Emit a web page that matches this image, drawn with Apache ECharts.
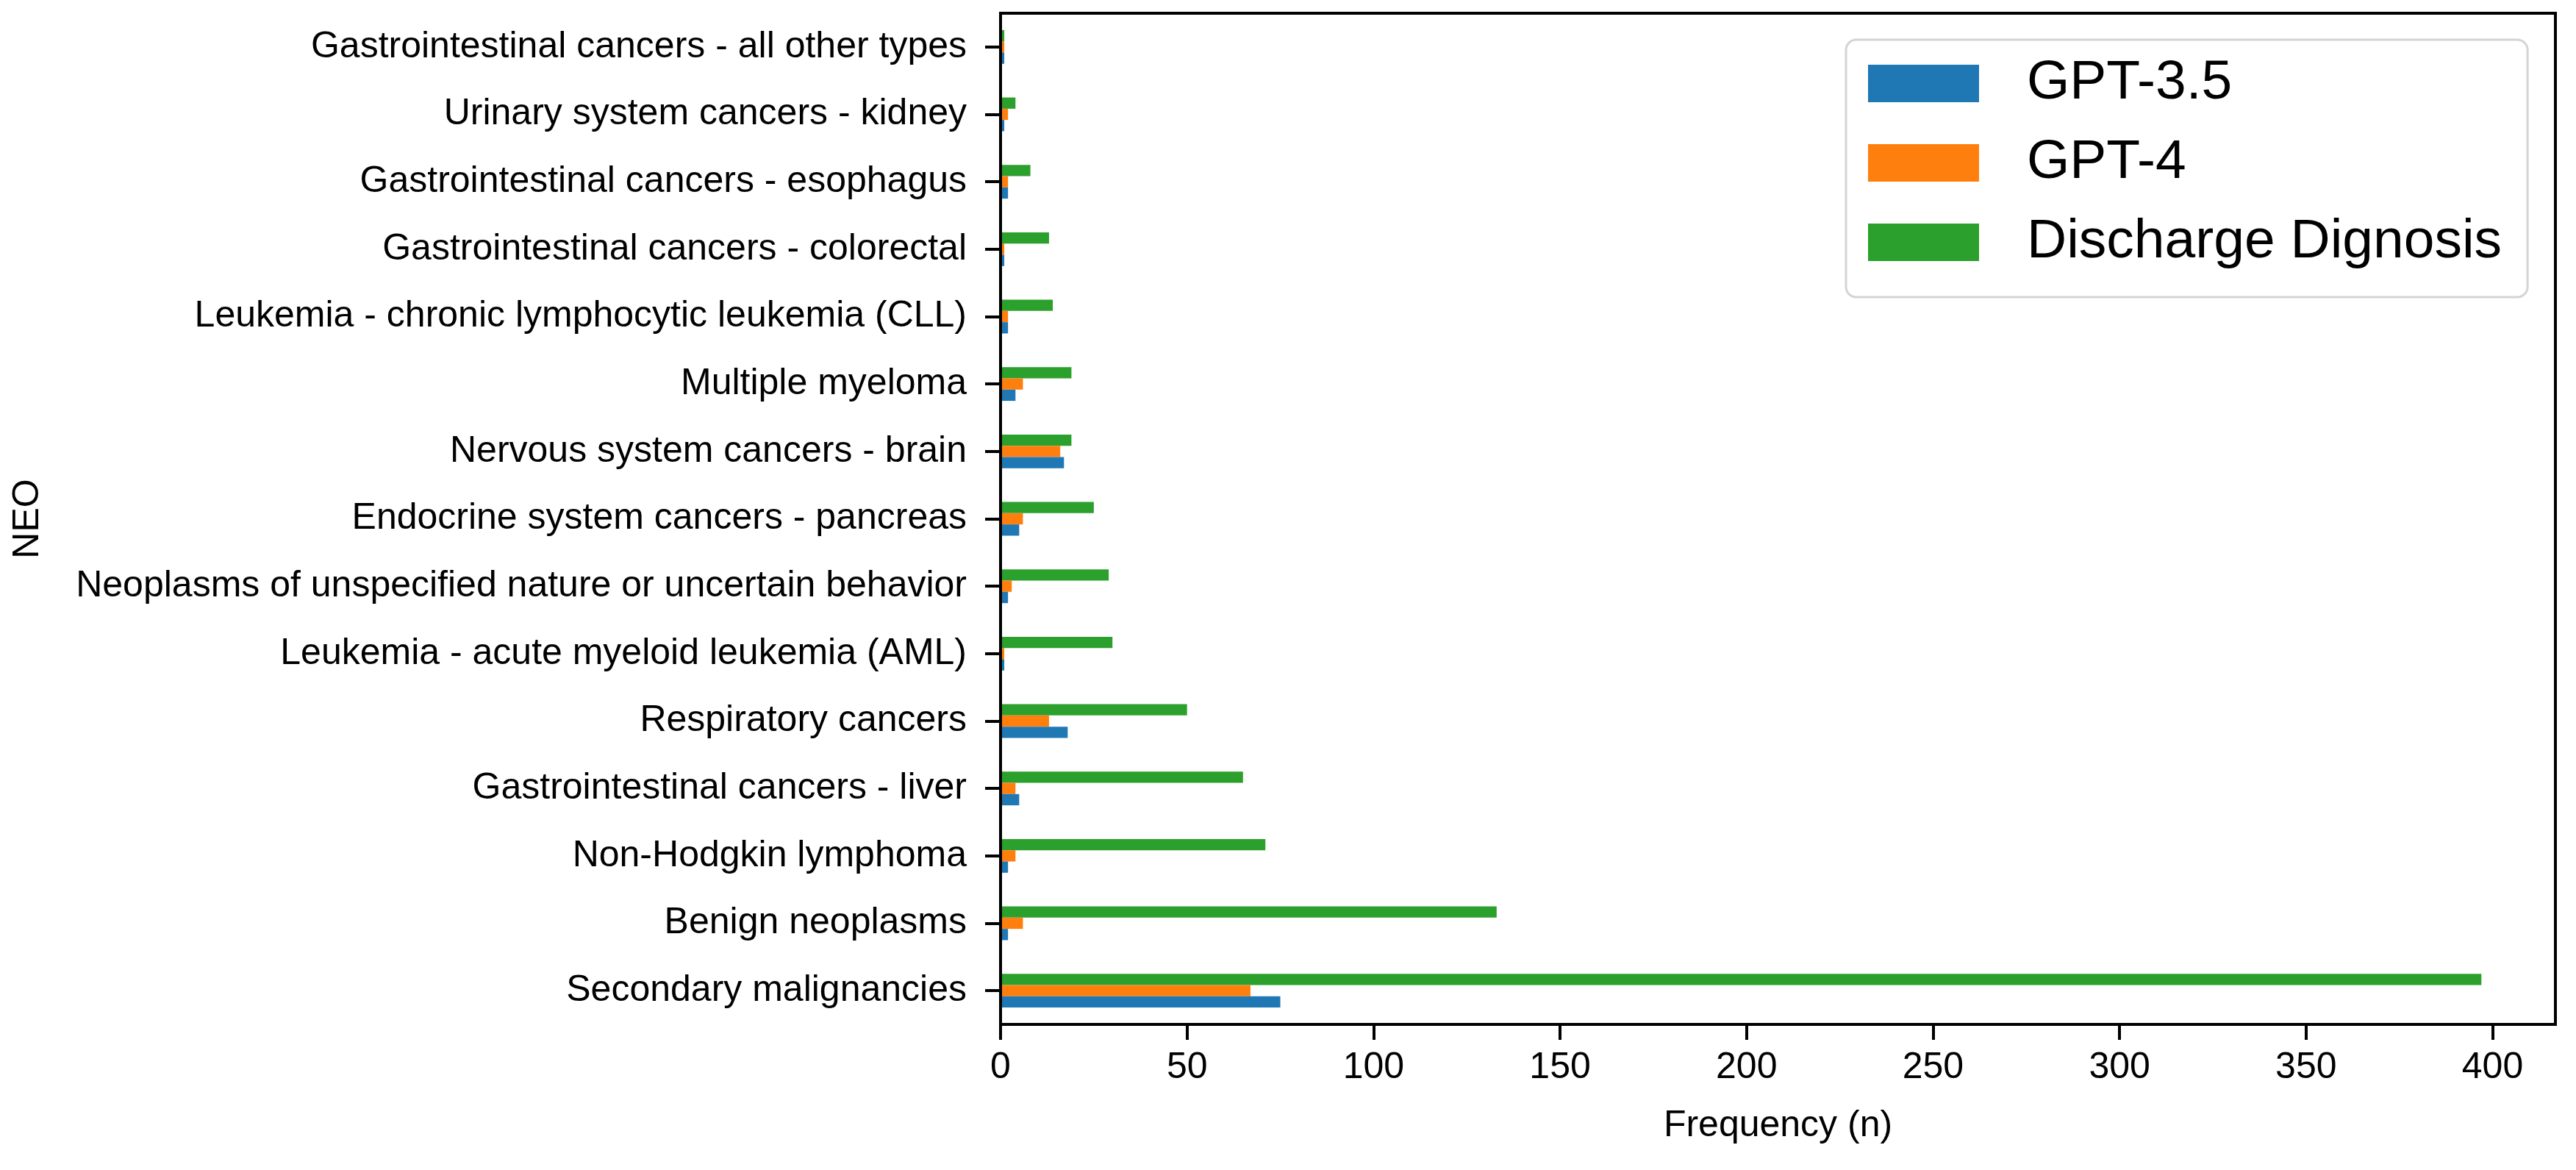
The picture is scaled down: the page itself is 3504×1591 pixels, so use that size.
<!DOCTYPE html>
<html>
<head>
<meta charset="utf-8">
<script src="https://cdn.jsdelivr.net/npm/echarts@6/dist/echarts.min.js"></script>
<style>
html,body{margin:0;padding:0;background:#fff;}
#chart{width:3504px;height:1591px;}
</style>
</head>
<body>
<div id="chart"></div>
<script>
// Categories listed bottom to top (ECharts category y axis runs upward)
var categories = [
  "Secondary malignancies",
  "Benign neoplasms",
  "Non-Hodgkin lymphoma",
  "Gastrointestinal cancers - liver",
  "Respiratory cancers",
  "Leukemia - acute myeloid leukemia (AML)",
  "Neoplasms of unspecified nature or uncertain behavior",
  "Endocrine system cancers - pancreas",
  "Nervous system cancers - brain",
  "Multiple myeloma",
  "Leukemia - chronic lymphocytic leukemia (CLL)",
  "Gastrointestinal cancers - colorectal",
  "Gastrointestinal cancers - esophagus",
  "Urinary system cancers - kidney",
  "Gastrointestinal cancers - all other types"
];
var gpt35 = [75, 2, 2, 5, 18, 1, 2, 5, 17, 4, 2, 1, 2, 1, 1];
var gpt4 = [67, 6, 4, 4, 13, 1, 3, 6, 16, 6, 2, 1, 2, 2, 1];
var discharge = [397, 133, 71, 65, 50, 30, 29, 25, 19, 19, 14, 13, 8, 4, 1];
var xTicks = [0, 50, 100, 150, 200, 250, 300, 350, 400];
var seriesNames = ["GPT-3.5", "GPT-4", "Discharge Dignosis"];
var colors = ["#1f77b4", "#ff7f0e", "#2ca02c"];

var FONT = "'Liberation Sans', Arial, Helvetica, sans-serif";
var chart = echarts.init(document.getElementById('chart'), null, {renderer: 'canvas'});
var maxVal = Math.max.apply(null, discharge) * 1.05;

var barW = 15.3;
var seriesData = [gpt35, gpt4, discharge];
// ECharts stacks the first series at the top of each band; matplotlib puts it at the bottom,
// so add the series in reverse order (legend order is set explicitly).
var series = [];
for (var i = seriesData.length - 1; i >= 0; i--) {
  series.push({
    name: seriesNames[i],
    type: 'bar',
    data: seriesData[i],
    barWidth: barW,
    barGap: '0%',
    itemStyle: {color: colors[i]},
    z: 2
  });
}

chart.setOption({
  animation: false,
  backgroundColor: '#ffffff',
  textStyle: {fontFamily: FONT},
  grid: {
    left: 1361, right: 28, top: 18, bottom: 198,
    show: true, borderColor: '#000', borderWidth: 4, backgroundColor: 'transparent'
  },
  legend: {
    data: seriesNames,
    orient: 'vertical',
    left: 2511, top: 54,
    itemWidth: 151, itemHeight: 51, itemGap: 33,
    icon: 'rect',
    selectedMode: false,
    padding: [22, 35, 37, 30],
    backgroundColor: 'rgba(255,255,255,0.8)',
    borderColor: '#d4d4d4', borderWidth: 3, borderRadius: 14,
    textStyle: {fontSize: 75, color: '#000', fontFamily: FONT, padding: [0, 0, 0, 60]}
  },
  xAxis: {
    type: 'value',
    min: 0, max: maxVal,
    name: 'Frequency (n)',
    nameLocation: 'middle',
    nameGap: 138,
    nameTextStyle: {fontSize: 50, color: '#000', fontFamily: FONT, verticalAlign: 'middle'},
    splitLine: {show: false},
    axisLine: {show: true, lineStyle: {color: '#000', width: 4}},
    axisTick: {show: true, length: 21, lineStyle: {color: '#000', width: 4}, customValues: xTicks},
    axisLabel: {fontSize: 50, color: '#000', fontFamily: FONT, margin: 34, customValues: xTicks},
    z: 10
  },
  yAxis: {
    type: 'category',
    data: categories,
    name: 'NEO',
    nameLocation: 'middle',
    nameGap: 1323,
    nameTextStyle: {fontSize: 50, color: '#000', fontFamily: FONT, verticalAlign: 'middle', align: 'center'},
    axisLine: {show: true, lineStyle: {color: '#000', width: 4}},
    axisTick: {show: true, alignWithLabel: true, length: 21, lineStyle: {color: '#000', width: 4}},
    axisLabel: {fontSize: 50, color: '#000', fontFamily: FONT, margin: 46},
    splitLine: {show: false},
    z: 10
  },
  series: series
});
</script>
</body>
</html>
